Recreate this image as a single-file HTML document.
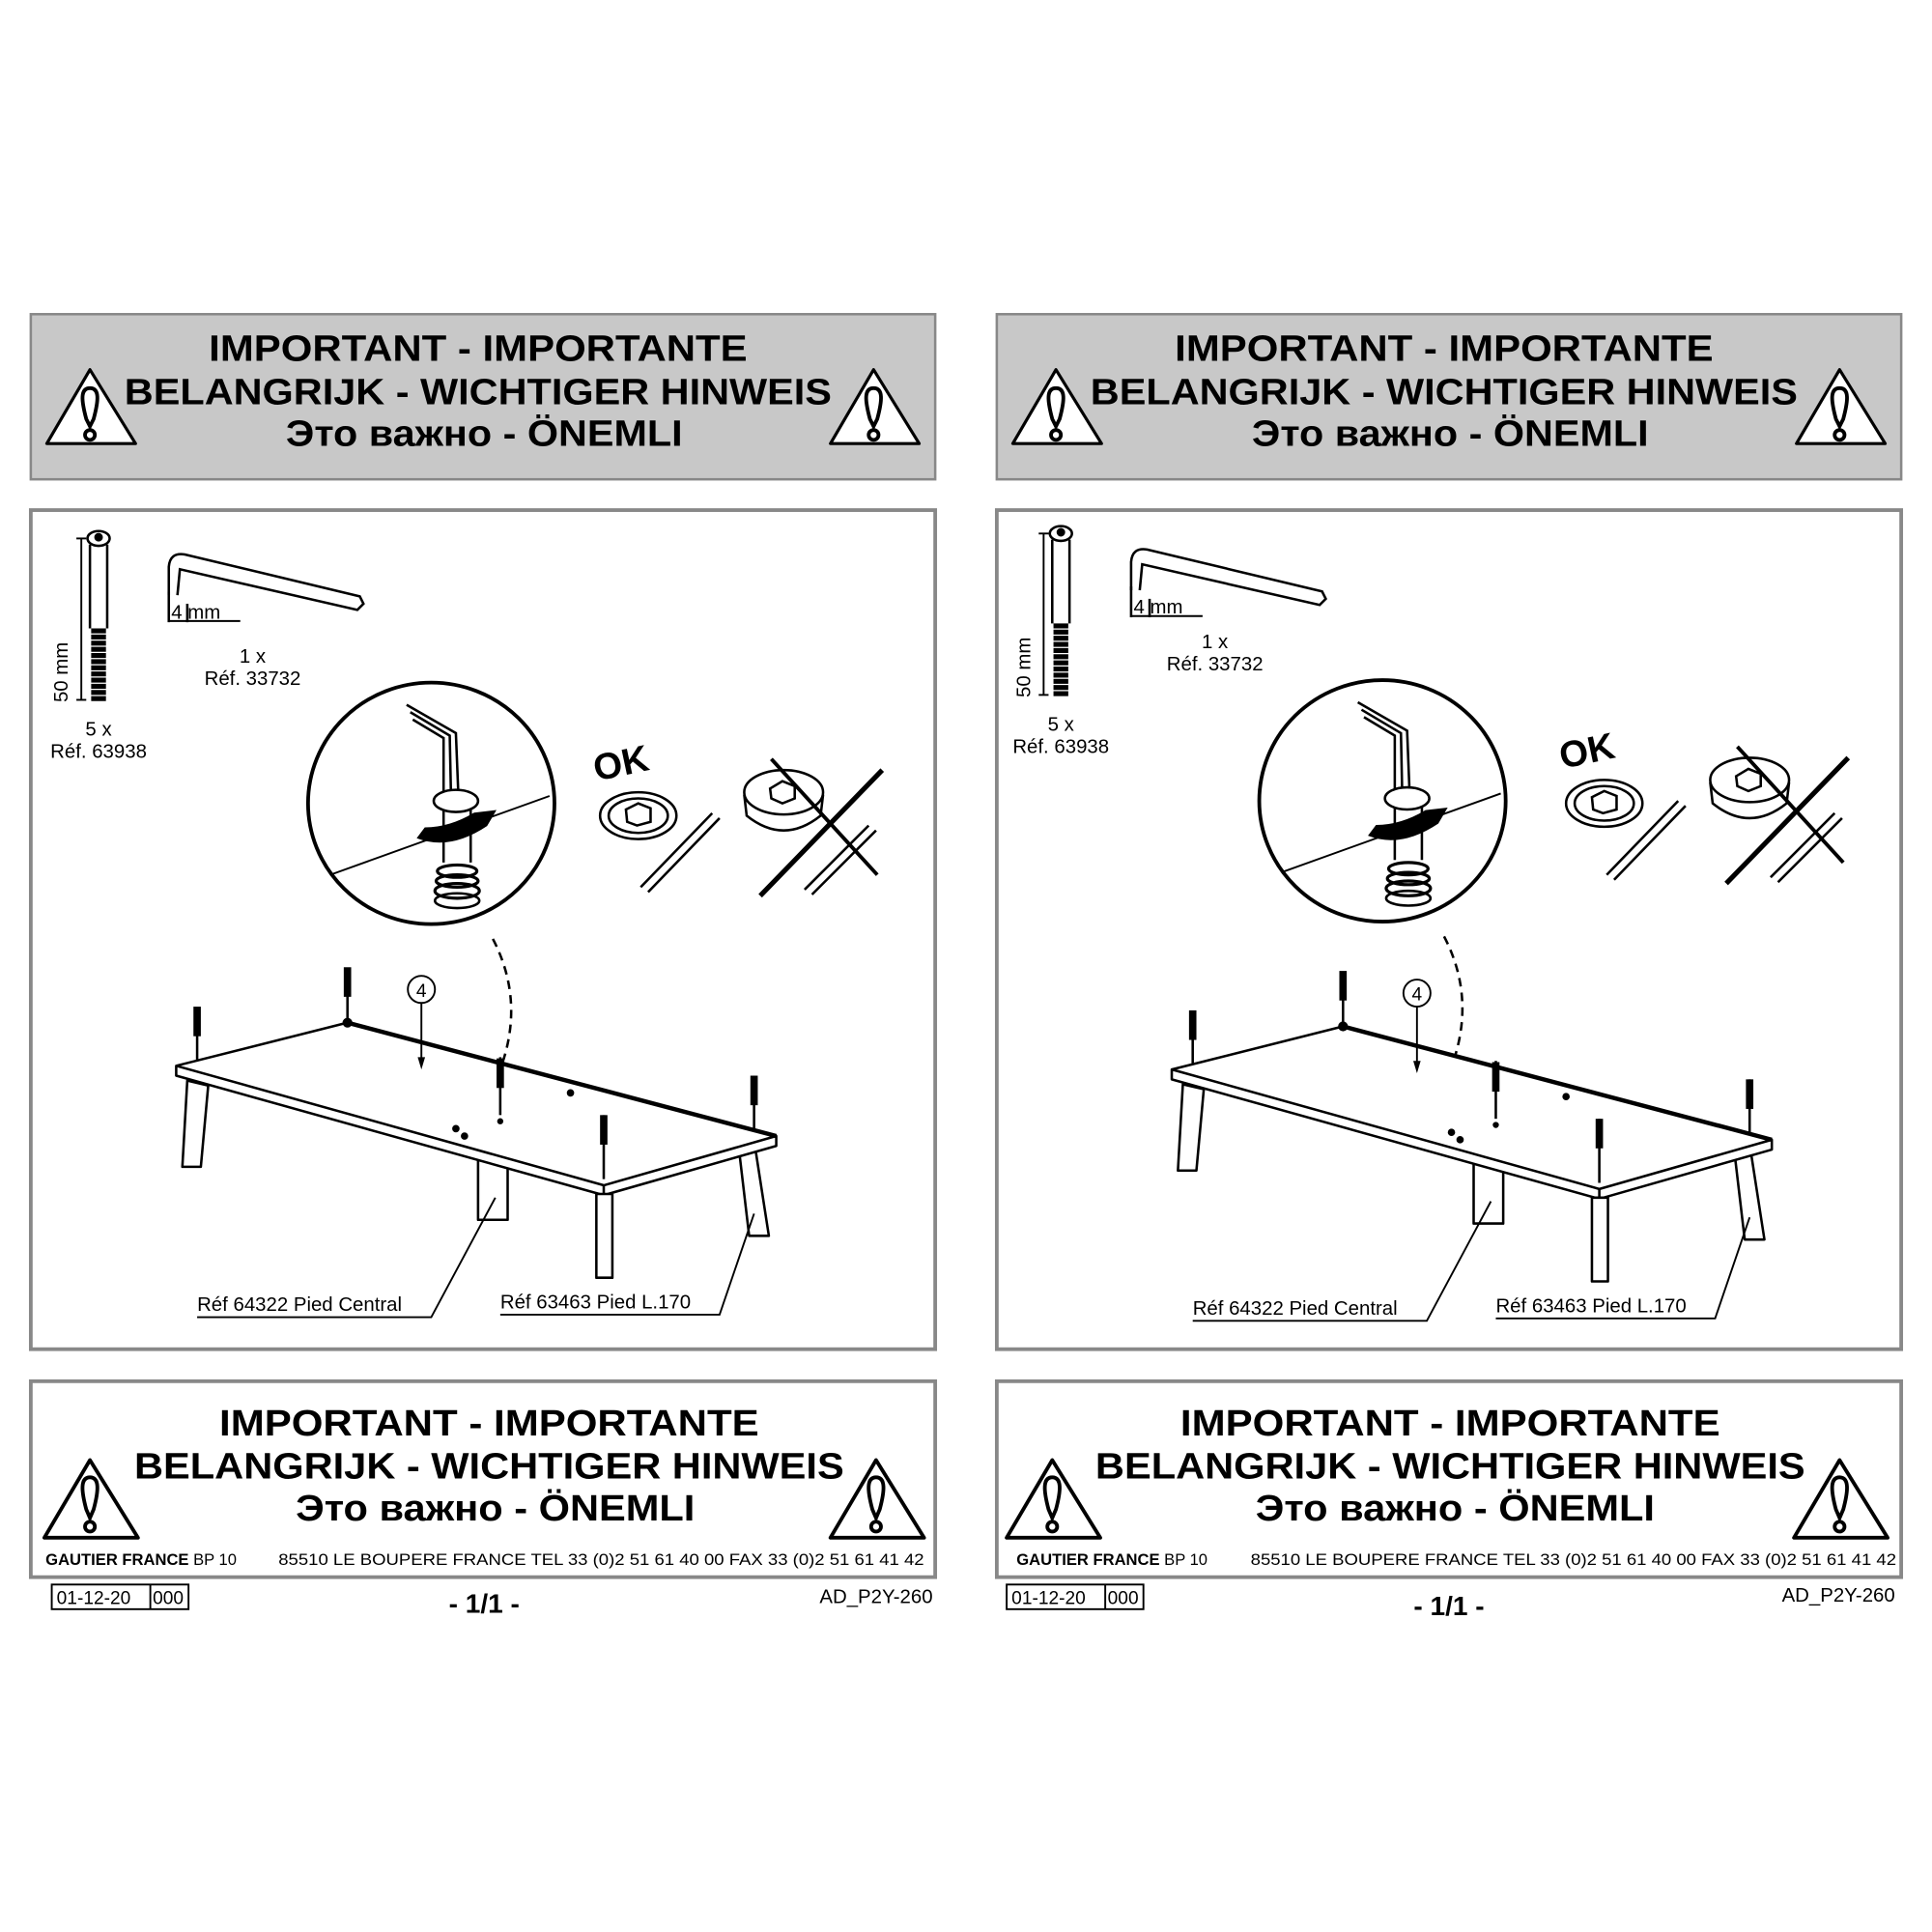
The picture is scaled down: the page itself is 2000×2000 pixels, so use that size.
<!DOCTYPE html>
<html><head><meta charset="utf-8"><style>
html,body{margin:0;padding:0;background:#fff}
svg{display:block}
text{font-family:"Liberation Sans",sans-serif}
.h{font-weight:bold;font-size:30px;text-anchor:middle}
.s{font-size:16px}
</style></head><body>
<svg width="2000" height="2000" viewBox="0 0 1568 1568" xmlns="http://www.w3.org/2000/svg">
<rect width="1568" height="1568" fill="#fff"/>

<g id="L">
<rect x="25" y="255" width="734" height="134" fill="#c8c8c8" stroke="#888" stroke-width="2"/>
<text class="h" x="388" y="293" textLength="437" lengthAdjust="spacingAndGlyphs">IMPORTANT - IMPORTANTE</text>
<text class="h" x="388" y="328" textLength="574" lengthAdjust="spacingAndGlyphs">BELANGRIJK - WICHTIGER HINWEIS</text>
<text class="h" x="393" y="362" textLength="322" lengthAdjust="spacingAndGlyphs">Это важно - ÖNEMLI</text>
<g fill="#fff" stroke="#000" stroke-width="2.5" stroke-linejoin="round">
<path d="M73,300 L38,360 L110,360 Z"/><path d="M709,300 L674,360 L746,360 Z"/>
</g>
<g fill="none" stroke="#000" stroke-width="3">
<path d="M73,315 C65,315 66,325 70,340 L73,346 L76,340 C80,325 81,315 73,315Z"/><circle cx="73" cy="353" r="4"/>
<path d="M709,315 C701,315 702,325 706,340 L709,346 L712,340 C716,325 717,315 709,315Z"/><circle cx="709" cy="353" r="4"/>
</g>

<rect x="25" y="414" width="734" height="681" fill="#fff" stroke="#888" stroke-width="3"/>
<g stroke="#000" fill="none" stroke-width="2">
<ellipse cx="80" cy="437" rx="9" ry="6"/><circle cx="80" cy="436" r="2.5" fill="#000"/>
<line x1="73" y1="442" x2="73" y2="510"/><line x1="87" y1="442" x2="87" y2="510"/>
<path d="M74,512 h12 M74,517 h12 M74,522 h12 M74,527 h12 M74,532 h12 M74,537 h12 M74,542 h12 M74,547 h12 M74,552 h12 M74,557 h12 M74,562 h12 M74,567 h12" stroke-width="4"/>
<line x1="66" y1="437" x2="66" y2="568" stroke-width="1.5"/>
<line x1="62" y1="437" x2="70" y2="437" stroke-width="1.5"/><line x1="62" y1="568" x2="70" y2="568" stroke-width="1.5"/>
</g>
<text class="s" x="0" y="0" transform="translate(55,570) rotate(-90)">50 mm</text>
<text class="s" x="80" y="597" text-anchor="middle">5 x</text>
<text class="s" x="80" y="615" text-anchor="middle">Réf. 63938</text>
<g stroke="#000" fill="none" stroke-width="2">
<path d="M137,483 L137,460 Q138,448 150,450 L292,484 L295,490 L290,495 L146,462 L144,483"/>
<line x1="137" y1="480" x2="137" y2="505"/><line x1="152" y1="490" x2="152" y2="505"/>
<line x1="137" y1="504" x2="195" y2="504" stroke-width="1.5"/>
</g>
<text class="s" x="139" y="502" font-size="18">4 mm</text>
<text class="s" x="205" y="538" text-anchor="middle">1 x</text>
<text class="s" x="205" y="556" text-anchor="middle">Réf. 33732</text>
<g stroke="#000" fill="none">
<ellipse cx="350" cy="652" rx="100" ry="98" stroke-width="3"/>
<line x1="268" y1="710" x2="446" y2="646" stroke-width="1.5"/>
<path d="M330,572 L370,595 L372,645 M333,578 L365,597 L366,645 M335,584 L360,599 L360,645" stroke-width="2"/>
<ellipse cx="370" cy="650" rx="18" ry="9" fill="#fff" stroke-width="2"/>
<path d="M360,657 L360,700 M382,657 L382,700" stroke-width="2"/>
<path d="M339,680 Q365,690 395,670 L402,658 L385,660 Q365,672 345,672 Z" fill="#000"/>
<ellipse cx="371" cy="707" rx="16" ry="5" stroke-width="2.5"/><ellipse cx="371" cy="715" rx="17" ry="5" stroke-width="2.5"/><ellipse cx="371" cy="723" rx="18" ry="6" stroke-width="2.5"/><ellipse cx="371" cy="731" rx="18" ry="6" stroke-width="2"/>
<path d="M400,762 Q425,810 408,862" stroke-width="2" stroke-dasharray="7,5"/>
</g>
<text x="0" y="0" font-weight="bold" font-size="30" transform="translate(484,634) rotate(-12)">OK</text>
<g stroke="#000" fill="none" stroke-width="2">
<ellipse cx="518" cy="662" rx="31" ry="19"/><ellipse cx="518" cy="662" rx="24" ry="14"/>
<path d="M508,657 L518,652 L528,656 L528,667 L517,670 L509,667 Z"/>
<line x1="520" y1="720" x2="578" y2="660"/><line x1="526" y1="724" x2="584" y2="664"/>
<ellipse cx="636" cy="643" rx="32" ry="18"/><path d="M604,645 L606,662 Q636,686 666,662 L668,645"/>
<path d="M625,640 L635,634 L645,638 L645,648 L635,652 L626,648 Z"/>
<line x1="653" y1="722" x2="705" y2="670"/><line x1="659" y1="726" x2="711" y2="674"/>
<line x1="617" y1="727" x2="716" y2="625" stroke-width="4"/><line x1="626" y1="616" x2="712" y2="710" stroke-width="3"/>
</g>
<g stroke="#000" fill="#fff" stroke-width="2" stroke-linejoin="round">
<path d="M152,877 L169,881 L163,947 L148,947 Z"/>
<path d="M600,935 L613,932 L624,1003 L608,1003 Z"/>
<rect x="388" y="930" width="24" height="60"/>
<path d="M143,865 L282,830 L630,922 L630,930 L490,970 L143,873 Z"/>
<path d="M143,865 L490,962 L630,922 M490,962 L490,970"/>
<rect x="484" y="969" width="13" height="68"/>
</g>
<line x1="282" y1="830" x2="630" y2="922" stroke="#000" stroke-width="3.5"/>
<g stroke="#000" stroke-width="2" fill="#000">
<path d="M160,818 L160,860"/><path d="M282,786 L282,830"/><path d="M406,858 L406,905"/><path d="M490,905 L490,957"/><path d="M612,873 L612,917"/>
<rect x="158" y="818" width="4" height="22"/><rect x="280" y="786" width="4" height="22"/><rect x="404" y="860" width="4" height="22"/><rect x="488" y="906" width="4" height="22"/><rect x="610" y="874" width="4" height="22"/>
<circle cx="282" cy="830" r="3"/><circle cx="406" cy="910" r="1.5"/><circle cx="463" cy="887" r="2"/><circle cx="370" cy="916" r="2"/><circle cx="377" cy="922" r="2"/>
</g>
<circle cx="342" cy="803" r="11" fill="#fff" stroke="#000" stroke-width="1.5"/>
<text x="342" y="809" text-anchor="middle" font-size="15">4</text>
<line x1="342" y1="814" x2="342" y2="862" stroke="#000" stroke-width="1.5"/>
<path d="M339,858 L342,868 L345,858Z" fill="#000"/>
<g stroke="#000" fill="none" stroke-width="1.5">
<path d="M402,972 L350,1069 L160,1069"/>
<path d="M612,985 L584,1067 L406,1067"/>
</g>
<text class="s" x="160" y="1064">Réf 64322 Pied Central</text>
<text class="s" x="406" y="1062">Réf 63463 Pied L.170</text>

<rect x="25" y="1121" width="734" height="159" fill="#fff" stroke="#888" stroke-width="3"/>
<text class="h" x="397" y="1165" textLength="438" lengthAdjust="spacingAndGlyphs">IMPORTANT - IMPORTANTE</text>
<text class="h" x="397" y="1200" textLength="576" lengthAdjust="spacingAndGlyphs">BELANGRIJK - WICHTIGER HINWEIS</text>
<text class="h" x="402" y="1234" textLength="324" lengthAdjust="spacingAndGlyphs">Это важно - ÖNEMLI</text>
<g fill="#fff" stroke="#000" stroke-width="3" stroke-linejoin="round">
<path d="M73,1185 L36,1248 L112,1248 Z"/><path d="M711,1185 L674,1248 L750,1248 Z"/>
</g>
<g fill="none" stroke="#000" stroke-width="3">
<path d="M73,1199 C65,1199 66,1210 70,1225 L73,1232 L76,1225 C80,1210 81,1199 73,1199Z"/><circle cx="73" cy="1239" r="4"/>
<path d="M711,1199 C703,1199 704,1210 708,1225 L711,1232 L714,1225 C718,1210 719,1199 711,1199Z"/><circle cx="711" cy="1239" r="4"/>
</g>
<text x="37" y="1270" font-size="13"><tspan font-weight="bold">GAUTIER FRANCE</tspan> BP 10</text>
<text x="226" y="1270" font-size="13" textLength="524" lengthAdjust="spacingAndGlyphs">85510 LE BOUPERE FRANCE TEL 33 (0)2 51 61 40 00 FAX 33 (0)2 51 61 41 42</text>
<rect x="42" y="1286" width="111" height="20" fill="none" stroke="#000" stroke-width="1.5"/>
<line x1="122" y1="1286" x2="122" y2="1306" stroke="#000" stroke-width="1.5"/>
<text x="46" y="1302" font-size="15">01-12-20</text><text x="124" y="1302" font-size="15">000</text>
<text x="393" y="1309" font-size="22" font-weight="bold" text-anchor="middle">-  1/1  -</text>
<text x="757" y="1301" font-size="16" text-anchor="end">AD_P2Y-260</text>
</g>

<g transform="translate(784,0)">
<rect x="25" y="255" width="734" height="134" fill="#c8c8c8" stroke="#888" stroke-width="2"/>
<text class="h" x="388" y="293" textLength="437" lengthAdjust="spacingAndGlyphs">IMPORTANT - IMPORTANTE</text>
<text class="h" x="388" y="328" textLength="574" lengthAdjust="spacingAndGlyphs">BELANGRIJK - WICHTIGER HINWEIS</text>
<text class="h" x="393" y="362" textLength="322" lengthAdjust="spacingAndGlyphs">Это важно - ÖNEMLI</text>
<g fill="#fff" stroke="#000" stroke-width="2.5" stroke-linejoin="round">
<path d="M73,300 L38,360 L110,360 Z"/><path d="M709,300 L674,360 L746,360 Z"/>
</g>
<g fill="none" stroke="#000" stroke-width="3">
<path d="M73,315 C65,315 66,325 70,340 L73,346 L76,340 C80,325 81,315 73,315Z"/><circle cx="73" cy="353" r="4"/>
<path d="M709,315 C701,315 702,325 706,340 L709,346 L712,340 C716,325 717,315 709,315Z"/><circle cx="709" cy="353" r="4"/>
</g>
<rect x="25" y="414" width="734" height="681" fill="#fff" stroke="#888" stroke-width="3"/>
<g transform="translate(-3,-4)">
<g stroke="#000" fill="none" stroke-width="2">
<ellipse cx="80" cy="437" rx="9" ry="6"/><circle cx="80" cy="436" r="2.5" fill="#000"/>
<line x1="73" y1="442" x2="73" y2="510"/><line x1="87" y1="442" x2="87" y2="510"/>
<path d="M74,512 h12 M74,517 h12 M74,522 h12 M74,527 h12 M74,532 h12 M74,537 h12 M74,542 h12 M74,547 h12 M74,552 h12 M74,557 h12 M74,562 h12 M74,567 h12" stroke-width="4"/>
<line x1="66" y1="437" x2="66" y2="568" stroke-width="1.5"/>
<line x1="62" y1="437" x2="70" y2="437" stroke-width="1.5"/><line x1="62" y1="568" x2="70" y2="568" stroke-width="1.5"/>
</g>
<text class="s" x="0" y="0" transform="translate(55,570) rotate(-90)">50 mm</text>
<text class="s" x="80" y="597" text-anchor="middle">5 x</text>
<text class="s" x="80" y="615" text-anchor="middle">Réf. 63938</text>
<g stroke="#000" fill="none" stroke-width="2">
<path d="M137,483 L137,460 Q138,448 150,450 L292,484 L295,490 L290,495 L146,462 L144,483"/>
<line x1="137" y1="480" x2="137" y2="505"/><line x1="152" y1="490" x2="152" y2="505"/>
<line x1="137" y1="504" x2="195" y2="504" stroke-width="1.5"/>
</g>
<text class="s" x="139" y="502" font-size="18">4 mm</text>
<text class="s" x="205" y="530" text-anchor="middle">1 x</text>
<text class="s" x="205" y="548" text-anchor="middle">Réf. 33732</text>
</g>
<g transform="translate(-12,-2)">
<g stroke="#000" fill="none">
<ellipse cx="350" cy="652" rx="100" ry="98" stroke-width="3"/>
<line x1="268" y1="710" x2="446" y2="646" stroke-width="1.5"/>
<path d="M330,572 L370,595 L372,645 M333,578 L365,597 L366,645 M335,584 L360,599 L360,645" stroke-width="2"/>
<ellipse cx="370" cy="650" rx="18" ry="9" fill="#fff" stroke-width="2"/>
<path d="M360,657 L360,700 M382,657 L382,700" stroke-width="2"/>
<path d="M339,680 Q365,690 395,670 L402,658 L385,660 Q365,672 345,672 Z" fill="#000"/>
<ellipse cx="371" cy="707" rx="16" ry="5" stroke-width="2.5"/><ellipse cx="371" cy="715" rx="17" ry="5" stroke-width="2.5"/><ellipse cx="371" cy="723" rx="18" ry="6" stroke-width="2.5"/><ellipse cx="371" cy="731" rx="18" ry="6" stroke-width="2"/>
<path d="M400,762 Q425,810 408,862" stroke-width="2" stroke-dasharray="7,5"/>
</g>
</g>
<g transform="translate(0,-10)">
<text x="0" y="0" font-weight="bold" font-size="30" transform="translate(484,634) rotate(-12)">OK</text>
<g stroke="#000" fill="none" stroke-width="2">
<ellipse cx="518" cy="662" rx="31" ry="19"/><ellipse cx="518" cy="662" rx="24" ry="14"/>
<path d="M508,657 L518,652 L528,656 L528,667 L517,670 L509,667 Z"/>
<line x1="520" y1="720" x2="578" y2="660"/><line x1="526" y1="724" x2="584" y2="664"/>
<ellipse cx="636" cy="643" rx="32" ry="18"/><path d="M604,645 L606,662 Q636,686 666,662 L668,645"/>
<path d="M625,640 L635,634 L645,638 L645,648 L635,652 L626,648 Z"/>
<line x1="653" y1="722" x2="705" y2="670"/><line x1="659" y1="726" x2="711" y2="674"/>
<line x1="617" y1="727" x2="716" y2="625" stroke-width="4"/><line x1="626" y1="616" x2="712" y2="710" stroke-width="3"/>
</g>
</g>
<g transform="translate(24,3)">
<g stroke="#000" fill="#fff" stroke-width="2" stroke-linejoin="round">
<path d="M152,877 L169,881 L163,947 L148,947 Z"/>
<path d="M600,935 L613,932 L624,1003 L608,1003 Z"/>
<rect x="388" y="930" width="24" height="60"/>
<path d="M143,865 L282,830 L630,922 L630,930 L490,970 L143,873 Z"/>
<path d="M143,865 L490,962 L630,922 M490,962 L490,970"/>
<rect x="484" y="969" width="13" height="68"/>
</g>
<line x1="282" y1="830" x2="630" y2="922" stroke="#000" stroke-width="3.5"/>
<g stroke="#000" stroke-width="2" fill="#000">
<path d="M160,818 L160,860"/><path d="M282,786 L282,830"/><path d="M406,858 L406,905"/><path d="M490,905 L490,957"/><path d="M612,873 L612,917"/>
<rect x="158" y="818" width="4" height="22"/><rect x="280" y="786" width="4" height="22"/><rect x="404" y="860" width="4" height="22"/><rect x="488" y="906" width="4" height="22"/><rect x="610" y="874" width="4" height="22"/>
<circle cx="282" cy="830" r="3"/><circle cx="406" cy="910" r="1.5"/><circle cx="463" cy="887" r="2"/><circle cx="370" cy="916" r="2"/><circle cx="377" cy="922" r="2"/>
</g>
<circle cx="342" cy="803" r="11" fill="#fff" stroke="#000" stroke-width="1.5"/>
<text x="342" y="809" text-anchor="middle" font-size="15">4</text>
<line x1="342" y1="814" x2="342" y2="862" stroke="#000" stroke-width="1.5"/>
<path d="M339,858 L342,868 L345,858Z" fill="#000"/>
<g stroke="#000" fill="none" stroke-width="1.5">
<path d="M402,972 L350,1069 L160,1069"/>
<path d="M612,985 L584,1067 L406,1067"/>
</g>
<text class="s" x="160" y="1064">Réf 64322 Pied Central</text>
<text class="s" x="406" y="1062">Réf 63463 Pied L.170</text>
</g>
<rect x="25" y="1121" width="734" height="159" fill="#fff" stroke="#888" stroke-width="3"/>
<text class="h" x="393" y="1165" textLength="438" lengthAdjust="spacingAndGlyphs">IMPORTANT - IMPORTANTE</text>
<text class="h" x="393" y="1200" textLength="576" lengthAdjust="spacingAndGlyphs">BELANGRIJK - WICHTIGER HINWEIS</text>
<text class="h" x="397" y="1234" textLength="324" lengthAdjust="spacingAndGlyphs">Это важно - ÖNEMLI</text>
<g fill="#fff" stroke="#000" stroke-width="3" stroke-linejoin="round">
<path d="M70,1185 L33,1248 L109,1248 Z"/><path d="M709,1185 L672,1248 L748,1248 Z"/>
</g>
<g fill="none" stroke="#000" stroke-width="3">
<path d="M70,1199 C62,1199 63,1210 67,1225 L70,1232 L73,1225 C77,1210 78,1199 70,1199Z"/><circle cx="70" cy="1239" r="4"/>
<path d="M709,1199 C701,1199 702,1210 706,1225 L709,1232 L712,1225 C716,1210 717,1199 709,1199Z"/><circle cx="709" cy="1239" r="4"/>
</g>
<text x="41" y="1270" font-size="13"><tspan font-weight="bold">GAUTIER FRANCE</tspan> BP 10</text>
<text x="231" y="1270" font-size="13" textLength="524" lengthAdjust="spacingAndGlyphs">85510 LE BOUPERE FRANCE TEL 33 (0)2 51 61 40 00 FAX 33 (0)2 51 61 41 42</text>
<rect x="33" y="1286" width="111" height="20" fill="none" stroke="#000" stroke-width="1.5"/>
<line x1="113" y1="1286" x2="113" y2="1306" stroke="#000" stroke-width="1.5"/>
<text x="37" y="1302" font-size="15">01-12-20</text><text x="115" y="1302" font-size="15">000</text>
<text x="392" y="1311" font-size="22" font-weight="bold" text-anchor="middle">-  1/1  -</text>
<text x="754" y="1300" font-size="16" text-anchor="end">AD_P2Y-260</text>
</g>
</svg>
</body></html>
